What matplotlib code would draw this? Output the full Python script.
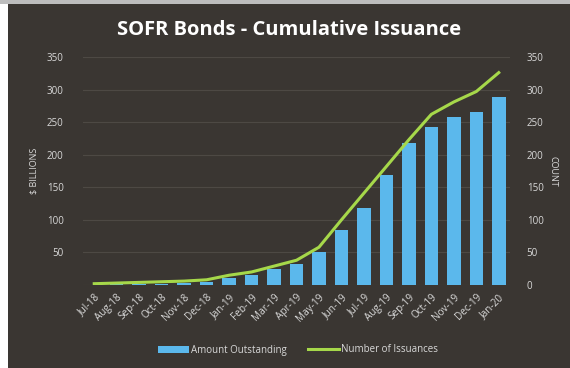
import matplotlib
matplotlib.use("Agg")
import matplotlib.pyplot as plt
import numpy as np

# ---------- Data ----------
months = ["Jul-18", "Aug-18", "Sep-18", "Oct-18", "Nov-18", "Dec-18", "Jan-19",
          "Feb-19", "Mar-19", "Apr-19", "May-19", "Jun-19", "Jul-19", "Aug-19",
          "Sep-19", "Oct-19", "Nov-19", "Dec-19", "Jan-20"]
amount_outstanding = [0.5, 1, 1.5, 2, 3, 5, 10, 16, 25, 33, 51, 85, 118, 169,
                      218, 243, 258, 265, 288]
num_issuances = [2, 3, 4, 5, 6, 8, 15, 20, 29, 38, 58, 100, 141, 182,
                 223, 262, 281, 297, 326]

BG = "#3a3632"
TXT = "#d9d9d9"
BAR = "#5bb8ec"
LINE = "#a6d84a"

plt.rcParams["font.family"] = ["Open Sans", "DejaVu Sans"]

fig = plt.figure(figsize=(5.70, 3.68), dpi=100, facecolor=BG)

# screenshot has a white strip on the left and a thin light line on top
fig.patches.append(plt.Rectangle((0, 0), 8 / 570, 1, transform=fig.transFigure,
                                 facecolor="white", edgecolor="none", zorder=-1))
fig.patches.append(plt.Rectangle((0, 1 - 4 / 368), 1, 4 / 368,
                                 transform=fig.transFigure,
                                 facecolor="#bdbdbd", edgecolor="none", zorder=-1))

ax = fig.add_axes([83 / 570, (368 - 285) / 368, 427 / 570, 228 / 368])
ax.set_facecolor("none")
x = np.arange(len(months))
bars = ax.bar(x, amount_outstanding, width=0.6, color=BAR, zorder=3,
              label="Amount Outstanding")
ax.set_xlim(-0.5, len(months) - 0.5)
ax.set_ylim(0, 350)
ax.set_yticks(range(0, 351, 50))
ax.set_yticklabels([""] + [str(v) for v in range(50, 351, 50)])
ax.grid(axis="y", color="#4d4944", linewidth=0.8, zorder=0)
ax.set_xticks(x)
ax.set_xticklabels(months, rotation=45, ha="right", rotation_mode="anchor")
ax.tick_params(axis="x", colors=TXT, labelsize=7.2, length=0, pad=5)
ax.tick_params(axis="y", colors=TXT, labelsize=7, length=0, pad=14)
for s in ax.spines.values():
    s.set_visible(False)
ax.set_ylabel("$ BILLIONS", color=TXT, fontsize=6.5, labelpad=6)

ax2 = ax.twinx()
line, = ax2.plot(x, num_issuances, color=LINE, linewidth=2.2, zorder=4,
                 label="Number of Issuances")
ax2.set_ylim(0, 350)
ax2.set_yticks(range(0, 351, 50))
ax2.tick_params(axis="y", colors=TXT, labelsize=7, length=0, pad=12)
for s in ax2.spines.values():
    s.set_visible(False)
ax2.set_ylabel("COUNT", color=TXT, fontsize=6.5, rotation=270, labelpad=10)

fig.text(289 / 570, 1 - 30 / 368, "SOFR Bonds - Cumulative Issuance",
         ha="center", va="center", color="white", fontsize=14.5,
         fontweight="bold")

leg = fig.legend([bars, line], ["Amount Outstanding", "Number of Issuances"],
                 loc="center", bbox_to_anchor=(298 / 570, 1 - 350 / 368),
                 ncol=2, frameon=False, fontsize=7, labelcolor=TXT,
                 handlelength=3.2, columnspacing=2.2, handletextpad=0.2)

fig.savefig("out.png", dpi=100, facecolor=fig.get_facecolor())
